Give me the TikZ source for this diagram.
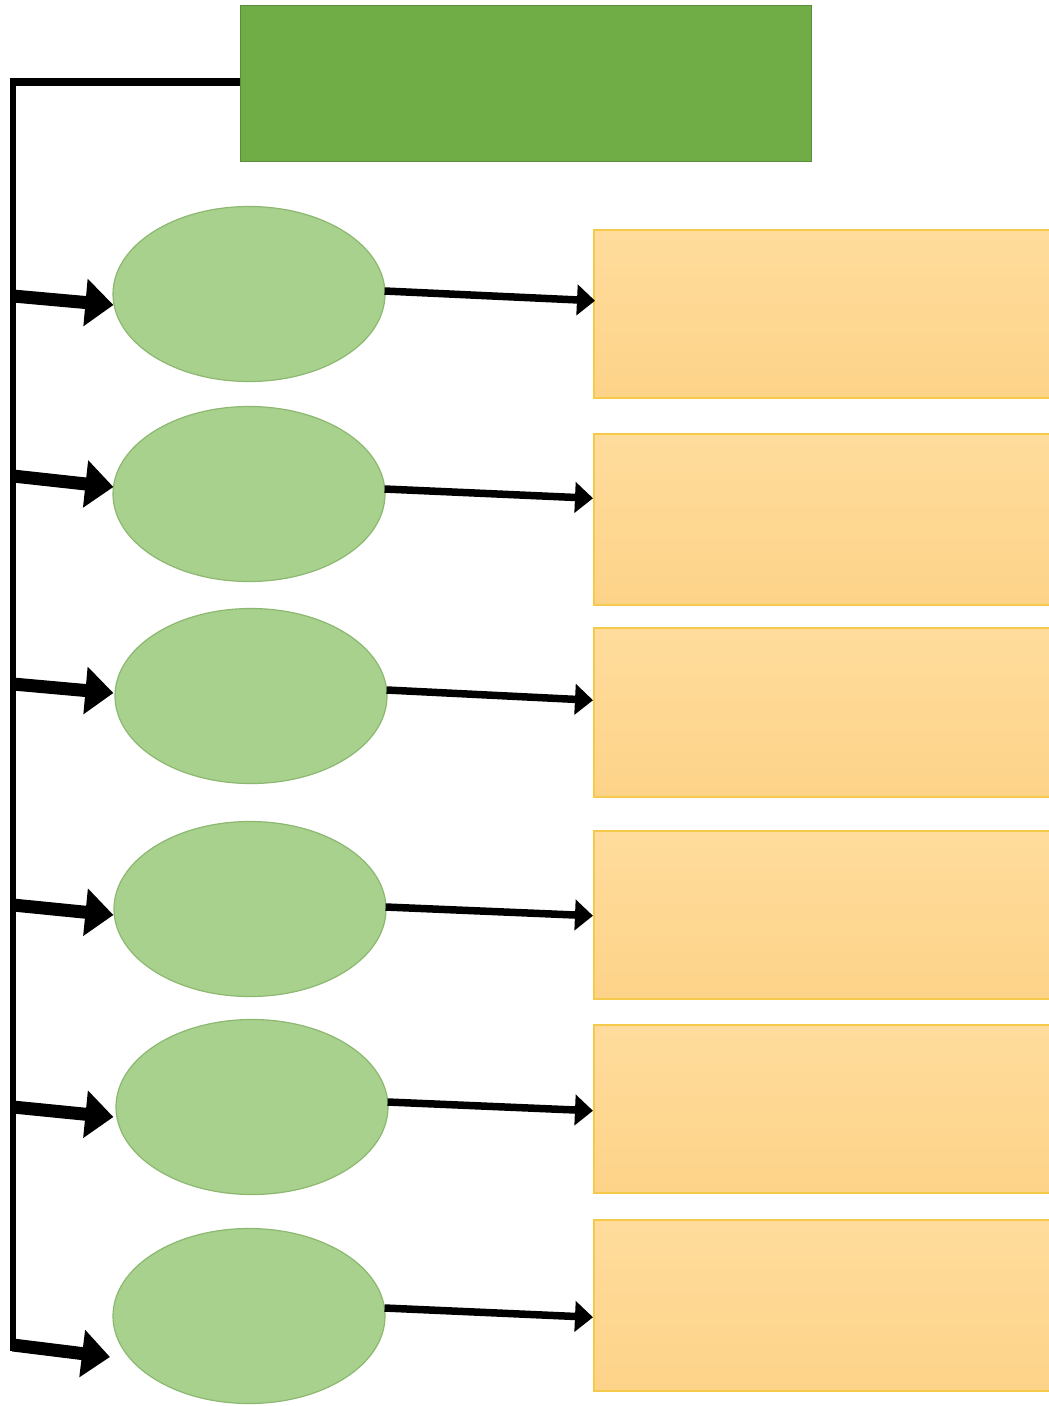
\documentclass[tikz,border=0pt]{standalone}
\usetikzlibrary{arrows.meta,shapes.geometric,calc}
\definecolor{topgreen}{HTML}{70AD47}
\definecolor{topgreenline}{HTML}{5B8C3A}
\definecolor{ellfill}{HTML}{A9D18E}
\definecolor{ellline}{HTML}{8CB870}
\definecolor{boxtop}{HTML}{FFDC9C}
\definecolor{boxbot}{HTML}{FDD388}
\definecolor{boxline}{HTML}{F5C949}
\begin{document}
\begin{tikzpicture}[x=1pt,y=-1pt,
  headbox/.style={draw=topgreenline,line width=1.2pt,fill=topgreen,minimum width=571pt,minimum height=156pt,inner sep=0pt,anchor=north west},
  ell/.style={ellipse,draw=ellline,line width=1.2pt,fill=ellfill,minimum width=272pt,minimum height=175pt,inner sep=0pt},
  ybox/.style={draw=boxline,line width=1.5pt,top color=boxtop,bottom color=boxbot,minimum width=456pt,inner sep=0pt,anchor=north west},
  bigarrow/.style={line width=13pt,-{Triangle[length=28pt,width=46pt]}},
  smallarrow/.style={line width=7.5pt,-{Triangle[length=18pt,width=30pt]}}]
\useasboundingbox (0,0) rectangle (1049,1406);
\fill[white] (0,0) rectangle (1049,1406);

\node[headbox] (top) at (240,5) {};

\node[ell] (e1) at (249,294) {};
\node[ell] (e2) at (249,494) {};
\node[ell] (e3) at (251,696) {};
\node[ell] (e4) at (250,909) {};
\node[ell] (e5) at (252,1107) {};
\node[ell] (e6) at (249,1316) {};

\node[ybox,minimum height=168pt] (b1) at (593,229) {};
\node[ybox,minimum height=171pt] (b2) at (593,433) {};
\node[ybox,minimum height=169pt] (b3) at (593,627) {};
\node[ybox,minimum height=168pt] (b4) at (593,830) {};
\node[ybox,minimum height=168pt] (b5) at (593,1024) {};
\node[ybox,minimum height=171pt] (b6) at (593,1219) {};

\coordinate (c0) at (13,82);
\coordinate (c1) at (13,296);
\coordinate (c2) at (13,476);
\coordinate (c3) at (13,684);
\coordinate (c4) at (13,905);
\coordinate (c5) at (13,1107);
\coordinate (c6) at (13,1345);
\coordinate (cend) at (13,1351);
\coordinate (t6) at (110,1357);

\draw[line width=8pt] (top.west |- c0) -- ($(c0)+(-3,0)$);
\draw[line width=6pt] ($(c0)+(0,-4)$) -- (cend);

\draw[bigarrow] (c1) -- ($(e1.west)+(1,11)$);
\draw[bigarrow] (c2) -- ($(e2.west)+(1,-7)$);
\draw[bigarrow] (c3) -- ($(e3.west)+(-1,-3)$);
\draw[bigarrow] (c4) -- ($(e4.west)+(0,6)$);
\draw[bigarrow] (c5) -- ($(e5.west)+(-2,10)$);
\draw[bigarrow] (c6) -- (t6);

\draw[smallarrow] ($(e1.east)+(-1,-3)$) -- ($(b1.west)+(2,-13)$);
\draw[smallarrow] ($(e2.east)+(-1,-5)$) -- ($(b2.west)+(0,-21)$);
\draw[smallarrow] ($(e3.east)+(-1,-6)$) -- ($(b3.west)+(0,-12)$);
\draw[smallarrow] ($(e4.east)+(-1,-2)$) -- ($(b4.west)+(0,1)$);
\draw[smallarrow] ($(e5.east)+(-1,-5)$) -- ($(b5.west)+(0,2)$);
\draw[smallarrow] ($(e6.east)+(-1,-8)$) -- ($(b6.west)+(0,12)$);
\end{tikzpicture}
\end{document}
